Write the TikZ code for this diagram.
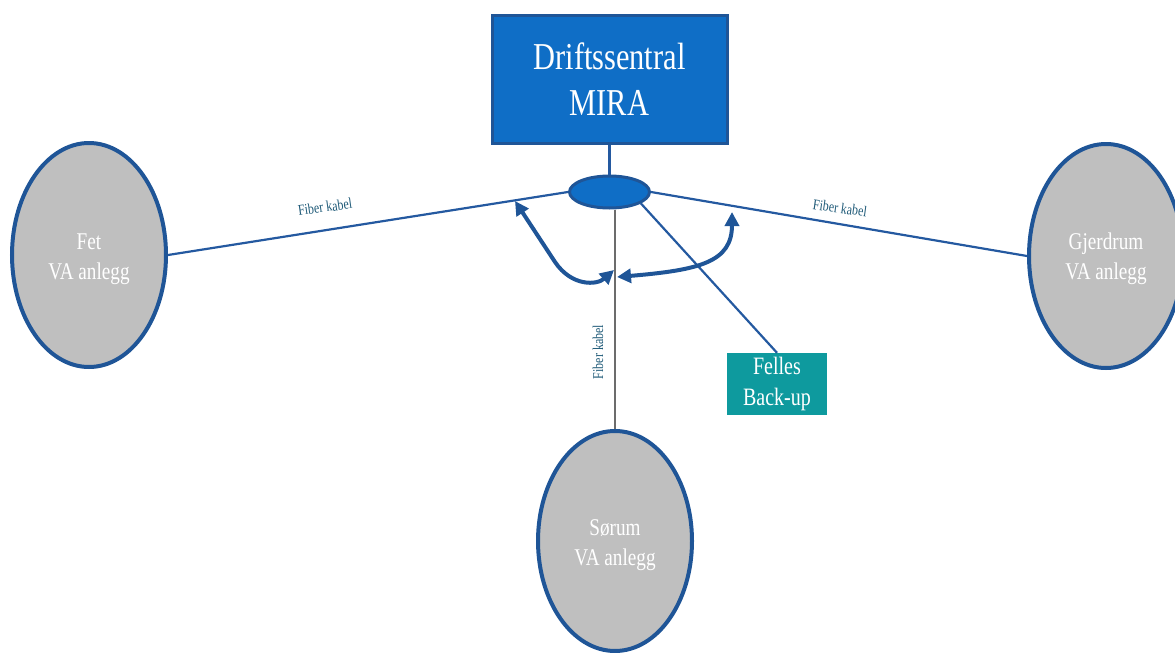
\documentclass[tikz,border=0pt]{standalone}
\usepackage{fontspec}
\setmainfont{Liberation Serif}[FakeStretch=0.8]
\usetikzlibrary{shapes.geometric,arrows.meta}
\definecolor{boxblue}{HTML}{0F6EC6}
\definecolor{edgeblue}{HTML}{1F5597}
\definecolor{linkblue}{HTML}{2459A0}
\definecolor{sitegray}{HTML}{BFBFBF}
\definecolor{tealbox}{HTML}{0E9A9E}
\definecolor{labelteal}{HTML}{1F5A78}
\tikzset{
  site/.style={ellipse, draw=edgeblue, line width=4pt, fill=sitegray, minimum width=154pt, minimum height=224pt, inner sep=0pt},
  sitetext/.style={text=white, align=center, font=\fontsize{24}{30}\selectfont, inner sep=0pt},
  link/.style={draw=linkblue, line width=2.2pt},
  fiberlabel/.style={text=labelteal, font=\fontsize{15}{17}\selectfont, inner sep=1pt},
  bigarrow/.style={draw=edgeblue, line width=4pt, {Triangle[length=14pt,width=14pt]}-{Triangle[length=14pt,width=14pt]}},
}
\begin{document}
\begin{tikzpicture}[x=1pt,y=-1pt]
\useasboundingbox (0,0) rectangle (1175,653);
\clip (0,0) rectangle (1175,653);
% central box
\node[draw=edgeblue, line width=3pt, fill=boxblue, minimum width=235pt, minimum height=128pt, text=white, align=center, font=\fontsize{38}{46}\selectfont, inner sep=0pt] (mira) at (609.5,79) {Driftssentral\\MIRA};
% hub
\node[ellipse, draw=edgeblue, line width=3pt, fill=boxblue, minimum width=80pt, minimum height=32pt, inner sep=0pt] (hub) at (609.5,192) {};
% sites
\node[site] (fet) at (89,255) {};
\node[sitetext] (fettext) at (89,259) {Fet\\VA anlegg};
\node[site] (gj) at (1106,256) {};
\node[sitetext] (gjtext) at (1106,259) {Gjerdrum\\VA anlegg};
\node[site, minimum height=220pt] (sor) at (615,541) {};
\node[sitetext] (sortext) at (615,545) {Sørum\\VA anlegg};
% backup
\node[fill=tealbox, minimum width=100pt, minimum height=62pt, text=white, align=center, font=\fontsize{25}{31}\selectfont, inner sep=0pt] (felles) at (777,384) {Felles\\Back-up};
% links
\draw[link] (mira.south) -- (hub.north);
\draw[link] (fet.east) -- (hub.west);
\draw[link] (hub.east) -- (gj.west);
\draw[link] (hub.-20) -- (felles.north);
\draw[draw=gray!85!black, line width=1.8pt] (sor.north |- hub.south) -- (sor.north);
% labels
\node[fiberlabel, rotate=8] (lab1) at (325,207) {Fiber kabel};
\node[fiberlabel, rotate=-8] (lab2) at (840,208) {Fiber kabel};
\node[fiberlabel, rotate=90] (lab3) at (598,352) {Fiber kabel};
% arrows
\coordinate (a1s) at (515,201);
\coordinate (a1e) at (614,270);
\coordinate (a2s) at (617,277);
\coordinate (a2e) at (732,212);
\draw[bigarrow] (a1s) -- (555,262) .. controls (572,287) and (597,285) .. (a1e);
\draw[bigarrow] (a2s) .. controls (700,270) and (732,262) .. (a2e);
\end{tikzpicture}
\end{document}
